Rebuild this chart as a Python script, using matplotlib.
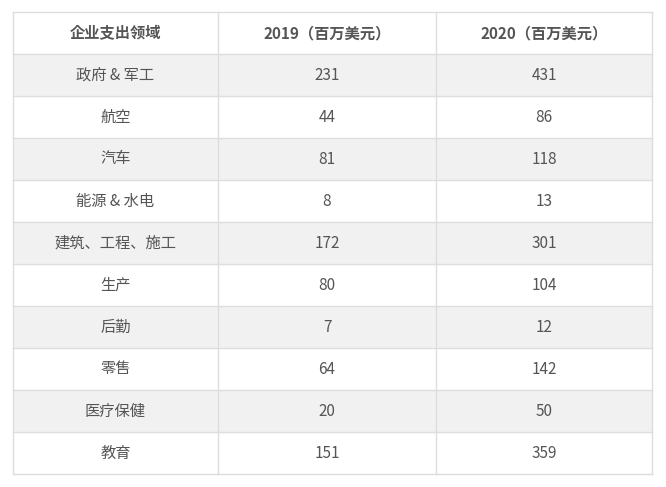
import matplotlib.pyplot as plt
from matplotlib import font_manager
from matplotlib.patches import Rectangle

# Pick whichever CJK font is actually registered
cjkNames = sorted({f.name for f in font_manager.fontManager.ttflist if 'CJK' in f.name})
preferred = [n for n in cjkNames if n.endswith('SC')] + cjkNames
plt.rcParams['font.family'] = preferred[:1] + ['DejaVu Sans']

# Table data
headers = ['企业支出领域', '2019（百万美元）', '2020（百万美元）']
sectors = ['政府 & 军工', '航空', '汽车', '能源 & 水电', '建筑、工程、施工',
           '生产', '后勤', '零售', '医疗保健', '教育']
spend2019 = [231, 44, 81, 8, 172, 80, 7, 64, 20, 151]
spend2020 = [431, 86, 118, 13, 301, 104, 12, 142, 50, 359]

# Layout in pixels
colEdges = [13, 218, 436, 652]
top, headH, rowH = 12, 42, 42
lineColor = '#dddddd'
textColor = '#555555'

fig = plt.figure(figsize=(6.66, 4.87), dpi=100)
ax = fig.add_axes([0, 0, 1, 1])
ax.set_xlim(0, 666)
ax.set_ylim(487, 0)
ax.axis('off')

nRows = len(sectors)
bottom = top + headH + nRows * rowH

# Row backgrounds
for i in range(nRows):
    y = top + headH + i * rowH
    color = '#f1f1f1' if i % 2 == 0 else 'white'
    ax.add_patch(Rectangle((colEdges[0], y), colEdges[-1] - colEdges[0], rowH,
                           facecolor=color, edgecolor='none'))

# Grid lines
for x in colEdges:
    ax.plot([x, x], [top, bottom], color=lineColor, lw=1)
for i in range(nRows + 2):
    y = top if i == 0 else top + headH + (i - 1) * rowH
    ax.plot([colEdges[0], colEdges[-1]], [y, y], color=lineColor, lw=1)

centers = [(colEdges[j] + colEdges[j + 1]) / 2 for j in range(3)]

# Header
for j, h in enumerate(headers):
    ax.text(centers[j], top + headH / 2, h, ha='center', va='center',
            fontsize=11, fontweight='bold', color=textColor)

# Body
for i in range(nRows):
    yc = top + headH + (i + 0.5) * rowH
    row = [sectors[i], str(spend2019[i]), str(spend2020[i])]
    for j, val in enumerate(row):
        ax.text(centers[j], yc, val, ha='center', va='center',
                fontsize=11, color=textColor)

fig.savefig('out.png', dpi=100)
